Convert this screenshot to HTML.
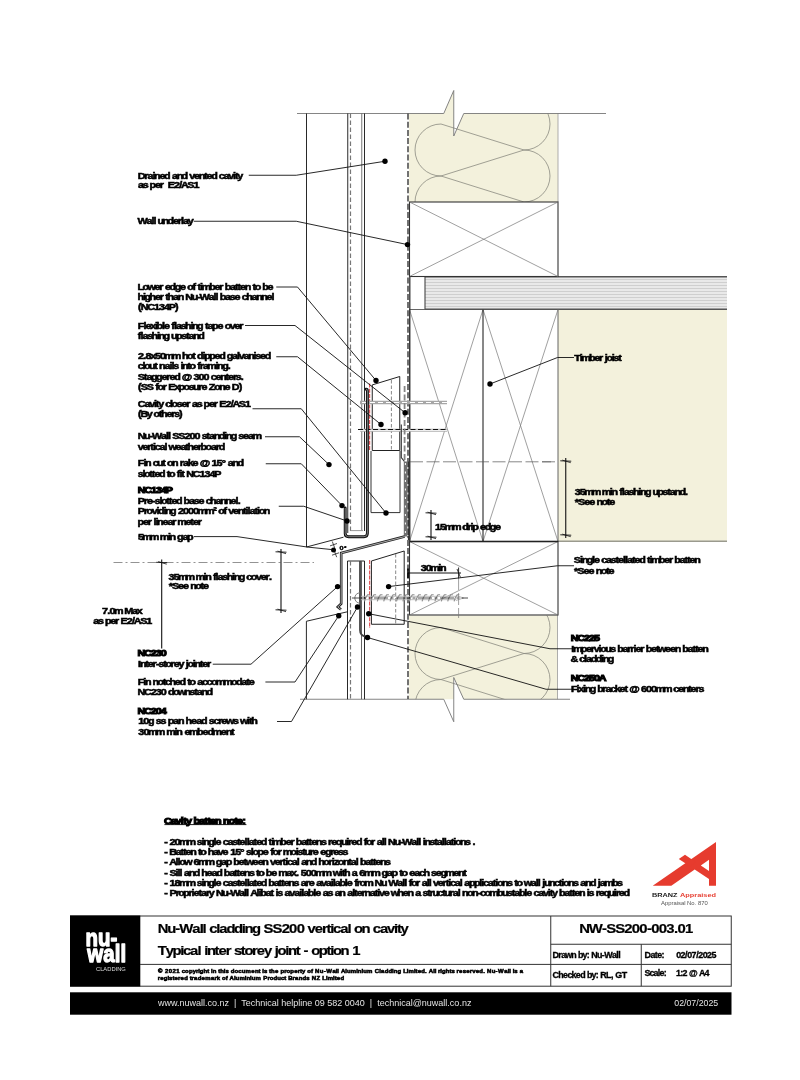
<!DOCTYPE html>
<html lang="en"><head><meta charset="utf-8"><title>NW-SS200-003.01 Typical inter storey joint - option 1</title>
<style>
html,body{margin:0;padding:0;background:#fff;}
body{width:800px;height:1080px;overflow:hidden;}
svg{display:block;will-change:transform;font-family:"Liberation Sans",sans-serif;}
svg text{white-space:pre;}
</style></head><body>
<svg width="800" height="1080" viewBox="0 0 800 1080">
<rect x="0" y="0" width="800" height="1080" fill="#fff"/>
<g id="drawing" stroke-linecap="butt" stroke-linejoin="miter">
<defs>
<clipPath id="clipA"><rect x="409.5" y="113.5" width="148.5" height="88.5"/></clipPath>
<clipPath id="clipB"><rect x="409.5" y="615.5" width="148" height="83.7"/></clipPath>
</defs>
<polygon points="409,113.5 443.75,113.5 453.75,90.5 453.75,136 463.75,113.5 558,113.5 558,202 409,202" fill="#f3f1dc" stroke="none" stroke-width="1"/>
<rect x="558" y="309.5" width="169" height="231.7" fill="#f3f1dc" stroke="none" stroke-width="1"/>
<line x1="558" y1="541.25" x2="727" y2="541.25" stroke="#9a9a8e" stroke-width="1.3"/>
<polygon points="409,615.5 557.5,615.5 557.5,699.25 463.75,699.25 453.75,677.5 453.75,699.25 409,699.25" fill="#f3f1dc" stroke="none" stroke-width="1"/>
<line x1="557.5" y1="615" x2="557.5" y2="699.25" stroke="#999" stroke-width="0.8"/>
<line x1="558" y1="113.5" x2="558" y2="202" stroke="#999" stroke-width="0.8"/>
<path d="M524,98.0 A26,26 0 0 1 524,150.0 L441,176.0 A26,26 0 0 1 441,124.0 L524,150.0 A26,26 0 0 1 524,202.0 L441,176.0 A26,26 0 0 0 441,228.0" fill="none" stroke="#8a8a80" stroke-width="0.8" clip-path="url(#clipA)"/>
<path d="M524,601.5 A26,26 0 0 1 524,653.5 L441,679.5 A26,26 0 0 1 441,627.5 L524,653.5 A26,26 0 0 1 524,705.5 L441,679.5 A26,26 0 0 0 441,731.5" fill="none" stroke="#8a8a80" stroke-width="0.8" clip-path="url(#clipB)"/>
<path d="M297,113.5 H443.75 L453.75,90.5 V136 L463.75,113.5 H606" fill="none" stroke="#777" stroke-width="0.9"/>
<path d="M300,699.25 H443.75 L453.75,721.75 V677.5 L463.75,699.25 H570" fill="none" stroke="#777" stroke-width="0.9"/>
<rect x="425" y="276.5" width="302" height="33" fill="#e9e9e9" stroke="none" stroke-width="1"/>
<line x1="425" y1="279.5" x2="727" y2="279.5" stroke="#bdbdbd" stroke-width="0.6"/>
<line x1="425" y1="282.5" x2="727" y2="282.5" stroke="#bdbdbd" stroke-width="0.6"/>
<line x1="425" y1="285.5" x2="727" y2="285.5" stroke="#bdbdbd" stroke-width="0.6"/>
<line x1="425" y1="288.5" x2="727" y2="288.5" stroke="#bdbdbd" stroke-width="0.6"/>
<line x1="425" y1="291.5" x2="727" y2="291.5" stroke="#bdbdbd" stroke-width="0.6"/>
<line x1="425" y1="294.5" x2="727" y2="294.5" stroke="#bdbdbd" stroke-width="0.6"/>
<line x1="425" y1="297.5" x2="727" y2="297.5" stroke="#bdbdbd" stroke-width="0.6"/>
<line x1="425" y1="300.5" x2="727" y2="300.5" stroke="#bdbdbd" stroke-width="0.6"/>
<line x1="425" y1="303.5" x2="727" y2="303.5" stroke="#bdbdbd" stroke-width="0.6"/>
<line x1="425" y1="306.5" x2="727" y2="306.5" stroke="#bdbdbd" stroke-width="0.6"/>
<line x1="425" y1="276.8" x2="727" y2="276.8" stroke="#555" stroke-width="1.4"/>
<line x1="425" y1="309.3" x2="727" y2="309.3" stroke="#555" stroke-width="1.4"/>
<line x1="425" y1="276.5" x2="425" y2="309.5" stroke="#444" stroke-width="1.1"/>
<rect x="409.5" y="202" width="148.5" height="74.5" fill="none" stroke="#333" stroke-width="1.1"/>
<line x1="409.5" y1="202" x2="558" y2="276.5" stroke="#777" stroke-width="0.7"/>
<line x1="409.5" y1="276.5" x2="558" y2="202" stroke="#777" stroke-width="0.7"/>
<rect x="409.5" y="309.5" width="148.5" height="232" fill="none" stroke="#555" stroke-width="0.9"/>
<line x1="409.5" y1="309.5" x2="483" y2="541.5" stroke="#777" stroke-width="0.7"/>
<line x1="409.5" y1="541.5" x2="483" y2="309.5" stroke="#777" stroke-width="0.7"/>
<line x1="483" y1="309.5" x2="558" y2="541.5" stroke="#777" stroke-width="0.7"/>
<line x1="483" y1="541.5" x2="558" y2="309.5" stroke="#777" stroke-width="0.7"/>
<line x1="483" y1="309.5" x2="483" y2="541.5" stroke="#111" stroke-width="1"/>
<rect x="409.5" y="541.5" width="148.5" height="73.5" fill="none" stroke="#333" stroke-width="1.1"/>
<line x1="409.5" y1="541.5" x2="558" y2="615" stroke="#777" stroke-width="0.7"/>
<line x1="409.5" y1="615" x2="558" y2="541.5" stroke="#777" stroke-width="0.7"/>
<line x1="409.5" y1="541.5" x2="558" y2="541.5" stroke="#222" stroke-width="1.6"/>
<line x1="306.5" y1="113.5" x2="306.5" y2="547" stroke="#111" stroke-width="0.9"/>
<line x1="347.75" y1="113.5" x2="347.75" y2="533" stroke="#111" stroke-width="0.9"/>
<line x1="350.5" y1="113.5" x2="350.5" y2="533" stroke="#777" stroke-width="1.2" stroke-dasharray="4.5 2.5"/>
<line x1="361.75" y1="113.5" x2="361.75" y2="531" stroke="#666" stroke-width="0.9"/>
<line x1="364.5" y1="113.5" x2="364.5" y2="531" stroke="#111" stroke-width="0.9"/>
<line x1="350.5" y1="530.6" x2="363" y2="530.6" stroke="#999" stroke-width="1"/>
<line x1="408" y1="113.5" x2="408" y2="699" stroke="#444" stroke-width="1.5" stroke-dasharray="6 2.2"/>
<line x1="409.8" y1="276.5" x2="409.8" y2="541" stroke="#333" stroke-width="1.3"/>
<polygon points="372.25,384.9 399.75,376.5 399.75,450.5 372.25,450.5" fill="none" stroke="#222" stroke-width="1"/>
<line x1="391.4" y1="380" x2="391.4" y2="450" stroke="#888" stroke-width="1" stroke-dasharray="3.5 2"/>
<line x1="369.6" y1="383.6" x2="369.6" y2="451" stroke="#e2575a" stroke-width="1.2" stroke-dasharray="4 1.2"/>
<polyline points="371,451 371,512.6 400,512.6 400,451" fill="none" stroke="#333" stroke-width="1"/>
<line x1="360" y1="402.5" x2="447" y2="402.5" stroke="#a6a6a6" stroke-width="3.4"/>
<line x1="362" y1="402.5" x2="447" y2="402.5" stroke="#fff" stroke-width="1.1" stroke-dasharray="5 3"/>
<line x1="360" y1="430.3" x2="447" y2="430.3" stroke="#b0b0b0" stroke-width="3"/>
<line x1="360" y1="430.3" x2="447" y2="430.3" stroke="#fff" stroke-width="1"/>
<line x1="358" y1="429.5" x2="447" y2="429.5" stroke="#111" stroke-width="1.2" stroke-dasharray="5 2.5"/>
<path d="M345.2,508 V533.5 Q345.2,536.7 348.5,536.7 H364 Q367.4,536.7 367.4,533.3 V391 Q367.4,388.8 366,389.2" fill="none" stroke="#111" stroke-width="2.9" stroke-linecap="round"/>
<path d="M345.2,508 V533.5 Q345.2,536.7 348.5,536.7 H364 Q367.4,536.7 367.4,533.3 V391 Q367.4,388.8 366,389.2" fill="none" stroke="#999" stroke-width="0.8"/>
<line x1="406.3" y1="461.5" x2="406.3" y2="536.5" stroke="#707070" stroke-width="5"/>
<line x1="408.6" y1="461.5" x2="408.6" y2="540" stroke="#333" stroke-width="1.4"/>
<line x1="405.4" y1="463" x2="405.4" y2="536" stroke="#fff" stroke-width="1" stroke-dasharray="2 6.5"/>
<line x1="407.8" y1="467" x2="407.8" y2="536" stroke="#fff" stroke-width="0.9" stroke-dasharray="2 6.5"/>
<path d="M341,609.6 L337.8,607 L341.2,603.6 V553 L404.6,536.6" fill="none" stroke="#222" stroke-width="2.6"/>
<path d="M341,609.6 L337.8,607 L341.2,603.6 V553 L404.6,536.6" fill="none" stroke="#bbb" stroke-width="0.9"/>
<polyline points="404.4,461.3 401.3,457.5 401.3,424.4" fill="none" stroke="#333" stroke-width="1.1"/>
<line x1="404.6" y1="386" x2="404.6" y2="461" stroke="#858585" stroke-width="1.8" stroke-dasharray="6 2.5"/>
<line x1="410" y1="461.8" x2="556" y2="461.8" stroke="#555" stroke-width="0.7" stroke-dasharray="13 3.5"/>
<line x1="306.5" y1="547" x2="343.5" y2="537.2" stroke="#111" stroke-width="0.9"/>
<polyline points="347.5,699.25 347.5,561 364.5,561 364.5,699.25" fill="none" stroke="#111" stroke-width="0.9"/>
<line x1="350.5" y1="561" x2="350.5" y2="699" stroke="#777" stroke-width="1.2" stroke-dasharray="4.5 2.5"/>
<line x1="361.5" y1="561" x2="361.5" y2="699.25" stroke="#555" stroke-width="0.9"/>
<path d="M360,561 V630 Q360,636 366,636.5" fill="none" stroke="#444" stroke-width="1.8"/>
<polygon points="371.4,561 404.2,551 404.2,624.25 371.4,624.25" fill="none" stroke="#222" stroke-width="1"/>
<line x1="395.7" y1="554" x2="395.7" y2="624" stroke="#888" stroke-width="1" stroke-dasharray="3.5 2"/>
<line x1="369.6" y1="560" x2="369.6" y2="628" stroke="#e2575a" stroke-width="1.2" stroke-dasharray="4 1.2"/>
<polyline points="347.5,611.75 306.4,621.25 306.4,699.25" fill="none" stroke="#111" stroke-width="0.9"/>
<line x1="361" y1="596.3" x2="456" y2="596.3" stroke="#b5b5b5" stroke-width="0.9"/>
<line x1="361" y1="599.7" x2="456" y2="599.7" stroke="#b5b5b5" stroke-width="0.9"/>
<path d="M364.5,601.3 Q365.0,598 367.5,594.8 L369.7,594.8 M370.9,601.3 Q371.4,598 373.9,594.8 L376.09999999999997,594.8 M377.29999999999995,601.3 Q377.79999999999995,598 380.29999999999995,594.8 L382.49999999999994,594.8 M383.69999999999993,601.3 Q384.19999999999993,598 386.69999999999993,594.8 L388.8999999999999,594.8 M390.0999999999999,601.3 Q390.5999999999999,598 393.0999999999999,594.8 L395.2999999999999,594.8 M396.4999999999999,601.3 Q396.9999999999999,598 399.4999999999999,594.8 L401.6999999999999,594.8 M402.89999999999986,601.3 Q403.39999999999986,598 405.89999999999986,594.8 L408.09999999999985,594.8 M409.29999999999984,601.3 Q409.79999999999984,598 412.29999999999984,594.8 L414.49999999999983,594.8 M415.6999999999998,601.3 Q416.1999999999998,598 418.6999999999998,594.8 L420.8999999999998,594.8 M422.0999999999998,601.3 Q422.5999999999998,598 425.0999999999998,594.8 L427.2999999999998,594.8 M428.4999999999998,601.3 Q428.9999999999998,598 431.4999999999998,594.8 L433.69999999999976,594.8 M434.89999999999975,601.3 Q435.39999999999975,598 437.89999999999975,594.8 L440.09999999999974,594.8 M441.2999999999997,601.3 Q441.7999999999997,598 444.2999999999997,594.8 L446.4999999999997,594.8 M447.6999999999997,601.3 Q448.1999999999997,598 450.6999999999997,594.8 L452.8999999999997,594.8 M454.0999999999997,601.3 Q454.5999999999997,598 457.0999999999997,594.8 L459.29999999999967,594.8" fill="none" stroke="#909090" stroke-width="1.1"/>
<path d="M360,592.8 A5.2,5.2 0 0 0 360,603.2" fill="none" stroke="#777" stroke-width="0.9"/>
<polyline points="456,595.6 463.5,598 456,600.4" fill="none" stroke="#999" stroke-width="0.8"/>
<line x1="352" y1="598" x2="468" y2="598" stroke="#222" stroke-width="0.8" stroke-dasharray="14 2.5 3 2.5"/>
<line x1="113.5" y1="562.5" x2="314" y2="562.5" stroke="#777" stroke-width="0.8" stroke-dasharray="9 3 2 3"/>
<line x1="161.7" y1="559.5" x2="161.7" y2="648.6" stroke="#111" stroke-width="1.1"/>
<line x1="156.2" y1="562.3" x2="167.2" y2="562.7" stroke="#111" stroke-width="0.9"/>
<line x1="158.2" y1="561.6" x2="166.7" y2="564.2" stroke="#111" stroke-width="0.8"/>
<line x1="281" y1="549" x2="281" y2="613" stroke="#111" stroke-width="1.1"/>
<line x1="275.5" y1="551.8" x2="286.5" y2="552.2" stroke="#111" stroke-width="0.9"/>
<line x1="277.5" y1="551.1" x2="286" y2="553.7" stroke="#111" stroke-width="0.8"/>
<line x1="275.5" y1="609.8" x2="286.5" y2="610.2" stroke="#111" stroke-width="0.9"/>
<line x1="277.5" y1="609.1" x2="286" y2="611.7" stroke="#111" stroke-width="0.8"/>
<line x1="431" y1="510" x2="431" y2="540" stroke="#111" stroke-width="1.1"/>
<line x1="425.5" y1="512.8" x2="436.5" y2="513.2" stroke="#111" stroke-width="0.9"/>
<line x1="427.5" y1="512.1" x2="436" y2="514.7" stroke="#111" stroke-width="0.8"/>
<line x1="425.5" y1="536.8" x2="436.5" y2="537.2" stroke="#111" stroke-width="0.9"/>
<line x1="427.5" y1="536.1" x2="436" y2="538.7" stroke="#111" stroke-width="0.8"/>
<line x1="408" y1="573" x2="461" y2="573" stroke="#111" stroke-width="1"/>
<line x1="408" y1="568.5" x2="408" y2="578" stroke="#000" stroke-width="1.6"/>
<line x1="458.6" y1="567.5" x2="458.6" y2="578.5" stroke="#111" stroke-width="0.9"/>
<line x1="457" y1="569" x2="460.5" y2="577.5" stroke="#111" stroke-width="0.8"/>
<line x1="458.6" y1="578" x2="458.6" y2="618" stroke="#777" stroke-width="0.7" stroke-dasharray="12 3"/>
<line x1="565.75" y1="458" x2="565.75" y2="538" stroke="#111" stroke-width="1.1"/>
<line x1="560.25" y1="460.8" x2="571.25" y2="461.2" stroke="#111" stroke-width="0.9"/>
<line x1="562.25" y1="460.1" x2="570.75" y2="462.7" stroke="#111" stroke-width="0.8"/>
<line x1="560.25" y1="534.8" x2="571.25" y2="535.2" stroke="#111" stroke-width="0.9"/>
<line x1="562.25" y1="534.1" x2="570.75" y2="536.7" stroke="#111" stroke-width="0.8"/>
<line x1="542" y1="461.8" x2="551" y2="461.8" stroke="#666" stroke-width="0.8"/>
<line x1="330.0" y1="545.9000000000001" x2="337.0" y2="543.5" stroke="#222" stroke-width="0.8"/>
<line x1="332.3" y1="541.5" x2="334.7" y2="547.9000000000001" stroke="#222" stroke-width="0.8"/>
<line x1="332.0" y1="555.2" x2="339.0" y2="552.8" stroke="#222" stroke-width="0.8"/>
<line x1="334.3" y1="550.8" x2="336.7" y2="557.2" stroke="#222" stroke-width="0.8"/>
<circle cx="333.5" cy="550" r="2.5" fill="#000"/>
<text transform="translate(339.6,549.6) scale(1.35,1)" font-size="5.4" font-weight="bold" stroke="#000" stroke-width="0.35">0°</text>
<polyline points="248.75,175.25 296.25,175.25 385,161.25" fill="none" stroke="#111" stroke-width="0.9"/>
<circle cx="385" cy="161.25" r="2.7" fill="#000"/>
<polyline points="193.75,221.25 296.25,221.25 407.5,244.6" fill="none" stroke="#111" stroke-width="0.9"/>
<circle cx="407.5" cy="244.6" r="2.7" fill="#000"/>
<polyline points="276.25,287 297.5,287 376,380.5" fill="none" stroke="#111" stroke-width="0.9"/>
<circle cx="376" cy="380.5" r="2.7" fill="#000"/>
<polyline points="245,325.5 295,325.5 405.1,412.75" fill="none" stroke="#111" stroke-width="0.9"/>
<circle cx="405.1" cy="412.75" r="2.7" fill="#000"/>
<polyline points="276.25,356.75 297.5,356.75 381,424.5" fill="none" stroke="#111" stroke-width="0.9"/>
<circle cx="381" cy="424.5" r="2.7" fill="#000"/>
<polyline points="252.5,408.75 301.25,408.75 386,513" fill="none" stroke="#111" stroke-width="0.9"/>
<circle cx="386" cy="513" r="2.7" fill="#000"/>
<polyline points="265,436.75 299.5,436.75 329,464.6" fill="none" stroke="#111" stroke-width="0.9"/>
<circle cx="329" cy="464.6" r="2.7" fill="#000"/>
<polyline points="265.75,463.75 301.25,463.75 342,505.6" fill="none" stroke="#111" stroke-width="0.9"/>
<circle cx="342" cy="505.6" r="2.7" fill="#000"/>
<polyline points="278.75,506.25 303.75,506.25 347,521" fill="none" stroke="#111" stroke-width="0.9"/>
<circle cx="347" cy="521" r="2.7" fill="#000"/>
<polyline points="194,536.6 237,536.6 307,547 332,549.6" fill="none" stroke="#111" stroke-width="0.9"/>
<polyline points="212.75,664.2 251,664.2 337.6,586.6" fill="none" stroke="#111" stroke-width="0.9"/>
<circle cx="337.6" cy="586.6" r="2.7" fill="#000"/>
<polyline points="265.4,682 295,682 338.75,615.75" fill="none" stroke="#111" stroke-width="0.9"/>
<circle cx="338.75" cy="615.75" r="2.7" fill="#000"/>
<polyline points="277,721.5 291.5,721.5 357.5,607" fill="none" stroke="#111" stroke-width="0.9"/>
<circle cx="357.5" cy="607" r="2.7" fill="#000"/>
<polyline points="574,357.5 557.5,357.5 490,384" fill="none" stroke="#111" stroke-width="0.9"/>
<circle cx="490" cy="384" r="2.7" fill="#000"/>
<polyline points="574,565.75 557.5,565.75 388.6,586.6" fill="none" stroke="#111" stroke-width="0.9"/>
<circle cx="388.6" cy="586.6" r="2.7" fill="#000"/>
<polyline points="572.5,648.75 550,648.75 368.75,613.75" fill="none" stroke="#111" stroke-width="0.9"/>
<circle cx="368.75" cy="613.75" r="2.7" fill="#000"/>
<polyline points="572.5,689.25 546,689.25 367.5,637.5" fill="none" stroke="#111" stroke-width="0.9"/>
<circle cx="367.5" cy="637.5" r="2.7" fill="#000"/>
</g>
<g id="labels">
<text transform="translate(138.4,178.8) scale(1.2,1)" x="-0.54 4.91 7.5 11.67 13.09 17.51 21.43 26.06 27.93 31.86 36.03 40.65 42.32 46.28 50.2 54.58 56.7 60.63 65.26 66.92 70.88 74.84 78.8 80.43 82.34" y="0" font-size="9" font-weight="bold" fill="#000" stroke="#000" stroke-width="0.5">Drained and vented cavity</text>
<text transform="translate(138.4,188.4) scale(1.2,1)" x="-0.42 3.54 7.71 9.34 13.76 17.84 20.64 22.72 24.51 29.6 33.98 35.52 40.77 45.86" y="0" font-size="9" font-weight="bold" fill="#000" stroke="#000" stroke-width="0.5">as per  E2/AS1</text>
<text transform="translate(138.4,223.9) scale(1.2,1)" x="-0.71 6.66 10.83 12.5 14.37 16 20.17 24.35 28.76 32.85 35.43 37.1 41.06" y="0" font-size="9" font-weight="bold" fill="#000" stroke="#000" stroke-width="0.5">Wall underlay</text>
<text transform="translate(138.4,289.85) scale(1.2,1)" x="-0.66 3.51 7.55 13.34 17.43 20.22 22.09 26.02 30.19 34.61 38.99 40.62 44.99 47.33 49.16 51.28 52.49 58.95 63.37 67.46 70.25 71.88 76.29 80.43 82.51 84.63 88.56 93.18 95.02 96.9 101.52 103.15 107.57" y="0" font-size="9" font-weight="bold" fill="#000" stroke="#000" stroke-width="0.5">Lower edge of timber batten to be</text>
<text transform="translate(138.4,300.1) scale(1.2,1)" x="-0.66 3.75 5.17 9.35 13.76 17.85 20.64 22.48 24.35 28.77 32.7 37.32 39.07 44.37 48.95 50.99 58.36 62.53 64.2 66.07 67.7 72.12 76.08 80.04 84.42 86.08 89.8 94.22 98.14 102.31 106.73 110.9" y="0" font-size="9" font-weight="bold" fill="#000" stroke="#000" stroke-width="0.5">higher than Nu-Wall base channel</text>
<text transform="translate(138.4,310.1) scale(1.2,1)" x="-0.25 1.96 7.37 12.91 17.08 21.26 25.34 30.6" y="0" font-size="9" font-weight="bold" fill="#000" stroke="#000" stroke-width="0.5">(NC134P)</text>
<text transform="translate(138.4,328.6) scale(1.2,1)" x="-0.46 4.16 5.83 9.79 13.75 15.17 19.59 21.26 25.64 27.47 29.59 31.26 35.22 38.94 43.35 44.77 48.94 53.57 55.41 57.53 61.45 65.87 70.25 71.88 76.09 80.05 84.13" y="0" font-size="9" font-weight="bold" fill="#000" stroke="#000" stroke-width="0.5">Flexible flashing tape over</text>
<text transform="translate(138.4,338.6) scale(1.2,1)" x="-0.46 1.67 3.33 7.29 11.01 15.43 16.85 21.02 25.64 27.27 31.44 35.65 39.57 41.69 45.62 49.79" y="0" font-size="9" font-weight="bold" fill="#000" stroke="#000" stroke-width="0.5">flashing upstand</text>
<text transform="translate(138.4,359.35) scale(1.2,1)" x="-0.42 3.96 5.84 9.8 13.76 17.93 21.64 27.89 34.81 36.43 40.61 44.98 47.32 48.94 53.36 54.78 58.95 63.37 67.29 71.92 73.55 77.97 82.14 83.59 87.55 91.48 95.9 97.35 101.31 105.24" y="0" font-size="9" font-weight="bold" fill="#000" stroke="#000" stroke-width="0.5">2.8x50mm hot dipped galvanised</text>
<text transform="translate(138.4,369.35) scale(1.2,1)" x="-0.63 3.33 4.75 8.92 13.3 15.63 17.26 21.68 25.85 27.52 28.97 33.14 35.02 36.44 40.82 42.69 47.32 49.15 51.19 53.77 57.49 64.19 65.61 69.79 74.41" y="0" font-size="9" font-weight="bold" fill="#000" stroke="#000" stroke-width="0.5">clout nails into framing.</text>
<text transform="translate(138.4,380.1) scale(1.2,1)" x="-0.5 4.55 6.67 10.59 14.77 19.18 23.27 25.85 29.78 34.4 36.11 44.1 45.97 50.15 54.32 58.7 60.36 64.32 68.25 72.62 74.75 78.83 81.21 85.38" y="0" font-size="9" font-weight="bold" fill="#000" stroke="#000" stroke-width="0.5">Staggered @ 300 centers.</text>
<text transform="translate(138.4,390.1) scale(1.2,1)" x="-0.25 2 7 12.29 14.13 16.01 20.34 23.13 24.92 29.8 33.51 37.68 41.89 45.6 49.94 52.52 56.9 58.73 63.11 67.28 71.7 76.08 77.83 83.54" y="0" font-size="9" font-weight="bold" fill="#000" stroke="#000" stroke-width="0.5">(SS for Exposure Zone D)</text>
<text transform="translate(138.4,406.85) scale(1.2,1)" x="-0.54 5 8.96 12.92 14.55 16.46 20.63 22.29 26.25 27.67 31.88 35.84 39.93 42.72 44.59 48.55 52.72 54.35 58.77 62.86 65.65 67.44 72.53 76.9 78.45 83.7 88.78" y="0" font-size="9" font-weight="bold" fill="#000" stroke="#000" stroke-width="0.5">Cavity closer as per E2/AS1</text>
<text transform="translate(138.4,416.85) scale(1.2,1)" x="-0.25 1.75 6.87 11.04 12.67 17.05 18.93 23.34 27.43 29.8 33.93" y="0" font-size="9" font-weight="bold" fill="#000" stroke="#000" stroke-width="0.5">(By others)</text>
<text transform="translate(138.4,439.35) scale(1.2,1)" x="-0.54 4.75 9.34 11.38 18.75 22.92 24.58 26.46 28.25 33.25 38.34 42.51 46.68 51.06 52.73 56.65 58.77 62.7 66.87 71.28 72.7 76.88 81.5 83.17 87.13 91.3 95.01" y="0" font-size="9" font-weight="bold" fill="#000" stroke="#000" stroke-width="0.5">Nu-Wall SS200 standing seam</text>
<text transform="translate(138.4,449.85) scale(1.2,1)" x="-0.63 3.33 7.42 9.96 12.09 13.54 17.5 21.67 23.55 25.05 30.84 35.01 39.14 41.02 45.44 49.52 51.86 56.03 60.45 64.53 66.87" y="0" font-size="9" font-weight="bold" fill="#000" stroke="#000" stroke-width="0.5">vertical weatherboard</text>
<text transform="translate(138.4,465.6) scale(1.2,1)" x="-0.46 4.16 5.58 10.21 11.87 15.59 19.97 22.3 23.93 28.1 32.73 34.51 37.1 41.06 45.02 49.4 51.11 59.1 60.97 65.14 69.43 72.52 74.4 78.32 82.49" y="0" font-size="9" font-weight="bold" fill="#000" stroke="#000" stroke-width="0.5">Fin cut on rake @ 15° and</text>
<text transform="translate(138.4,476.85) scale(1.2,1)" x="-0.63 3.33 4.75 9.13 11.21 13.34 17.26 21.89 23.72 25.6 30.23 32.06 34.19 35.81 38.14 39.9 45.31 50.85 55.02 59.19 63.28" y="0" font-size="9" font-weight="bold" fill="#000" stroke="#000" stroke-width="0.5">slotted to fit NC134P</text>
<text transform="translate(138.4,492.6) scale(1.2,1)" x="-0.54 4.87 10.42 14.59 18.76 22.85" y="0" font-size="9" font-weight="bold" fill="#000" stroke="#000" stroke-width="1.05">NC134P</text>
<text transform="translate(138.4,503.85) scale(1.2,1)" x="-0.5 4.5 7.08 11.42 13.54 17.5 18.92 23.3 25.38 27.51 31.43 36.06 37.69 42.1 46.06 50.03 54.4 56.07 59.78 64.2 68.13 72.3 76.71 80.89 82.76" y="0" font-size="9" font-weight="bold" fill="#000" stroke="#000" stroke-width="0.5">Pre-slotted base channel.</text>
<text transform="translate(138.4,514.35) scale(1.2,1)" x="-0.5 4.5 6.84 11.04 15 16.42 20.84 22.26 26.43 31.06 32.93 37.11 41.28 45.45 49.16 55.41 62.28 64.82 66.45 70.83 73.16 74.82 78.78 82.71 87.09 89.21 90.88 92.54 96.67 98.8 100.22 104.39" y="0" font-size="9" font-weight="bold" fill="#000" stroke="#000" stroke-width="0.5">Providing 2000mm² of ventilation</text>
<text transform="translate(138.4,525.1) scale(1.2,1)" x="-0.66 3.75 7.84 10.63 12.51 14.17 15.59 20.01 24.18 28.27 31.06 32.47 39.18 43.31 45.44 49.52" y="0" font-size="9" font-weight="bold" fill="#000" stroke="#000" stroke-width="0.5">per linear meter</text>
<text transform="translate(138.4,539.85) scale(1.2,1)" x="-0.42 3.29 9.54 16.46 17.87 24.58 26 30.63 32.26 36.67 40.6" y="0" font-size="9" font-weight="bold" fill="#000" stroke="#000" stroke-width="0.5">5mm min gap</text>
<text transform="translate(169.1,580.3) scale(1.2,1)" x="-0.42 3.75 7.46 13.71 20.63 22.04 28.75 30.17 34.8 36.63 38.76 40.42 44.38 48.1 52.52 53.94 58.11 62.73 64.4 68.11 72.32 76.28 80.36 83.16" y="0" font-size="9" font-weight="bold" fill="#000" stroke="#000" stroke-width="0.5">35mm min flashing cover.</text>
<text transform="translate(169.1,589.1) scale(1.2,1)" x="-0.29 2.42 7.5 11.68 16.06 17.68 21.86 26.23 28.36" y="0" font-size="9" font-weight="bold" fill="#000" stroke="#000" stroke-width="0.5">*See note</text>
<text transform="translate(102.45,614.1) scale(1.2,1)" x="-0.42 3.96 5.84 9.55 16.47 18.13 24.59 28.55" y="0" font-size="9" font-weight="bold" fill="#000" stroke="#000" stroke-width="0.5">7.0m Max</text>
<text transform="translate(93.7,624.2) scale(1.2,1)" x="-0.42 3.54 7.71 9.34 13.76 17.84 20.64 22.43 27.51 31.89 33.44 38.69 43.77" y="0" font-size="9" font-weight="bold" fill="#000" stroke="#000" stroke-width="0.5">as per E2/AS1</text>
<text transform="translate(138.2,656.4) scale(1.2,1)" x="-0.54 4.87 10.42 14.59 18.76" y="0" font-size="9" font-weight="bold" fill="#000" stroke="#000" stroke-width="1.05">NC230</text>
<text transform="translate(138.2,667.1) scale(1.2,1)" x="-0.21 1.42 5.8 7.92 12.01 14.76 16.88 20.8 22.68 27.01 29.59 33.55 37.72 39.6 41.02 45.43 46.85 51.23 53.35 57.44" y="0" font-size="9" font-weight="bold" fill="#000" stroke="#000" stroke-width="0.5">Inter-storey jointer</text>
<text transform="translate(138.2,685.0) scale(1.2,1)" x="-0.46 4.16 5.58 10.21 11.84 16.01 20.39 22.3 26.02 30.43 34.36 38.98 40.82 42.7 47.32 49.2 53.16 56.91 60.62 64.58 70.83 77.29 81.46 85.88 90.01 92.13" y="0" font-size="9" font-weight="bold" fill="#000" stroke="#000" stroke-width="0.5">Fin notched to accommodate</text>
<text transform="translate(138.2,694.6) scale(1.2,1)" x="-0.54 4.87 10.42 14.59 18.76 23.14 24.77 28.94 32.98 38.53 42.73 46.65 48.78 52.7 56.87" y="0" font-size="9" font-weight="bold" fill="#000" stroke="#000" stroke-width="0.5">NC230 downstand</text>
<text transform="translate(138.2,713.6) scale(1.2,1)" x="-0.54 4.87 10.42 14.59 18.76" y="0" font-size="9" font-weight="bold" fill="#000" stroke="#000" stroke-width="1.05">NC204</text>
<text transform="translate(138.6,723.6) scale(1.2,1)" x="-0.36 3.92 7.95 12.66 14.4 18.25 22.5 24.21 28.73 32.77 37.48 39.19 43.72 48 52.03 56.74 58.48 62.33 66.29 68.96 72.88 78.58 82.83 84.42 90.31 91.98 93.94" y="0" font-size="9" font-weight="bold" fill="#000" stroke="#000" stroke-width="0.5">10g ss pan head screws with</text>
<text transform="translate(138.6,734.8) scale(1.2,1)" x="-0.34 4 7.91 14.4 21.48 23.05 29.91 31.45 36.19 38.19 42.1 48.77 53.35 57.43 61.59 68.5 72.59 77.09" y="0" font-size="9" font-weight="bold" fill="#000" stroke="#000" stroke-width="0.5">30mm min embedment</text>
<text transform="translate(574.7,360.6) scale(1.2,1)" x="-0.46 4.16 5.37 11.83 16.25 20.34 23.13 25 26.42 30.84 32.29 36.22" y="0" font-size="9" font-weight="bold" fill="#000" stroke="#000" stroke-width="0.5">Timber joist</text>
<text transform="translate(575.2,495.1) scale(1.2,1)" x="-0.42 3.75 7.46 13.71 20.63 22.04 28.75 30.17 34.8 36.63 38.76 40.42 44.38 48.1 52.52 53.94 58.11 62.73 64.36 68.53 72.74 76.66 78.78 82.71 86.88 91.51" y="0" font-size="9" font-weight="bold" fill="#000" stroke="#000" stroke-width="0.5">35mm min flashing upstand.</text>
<text transform="translate(575.2,505.1) scale(1.2,1)" x="-0.29 2.42 7.5 11.68 16.06 17.68 21.86 26.23 28.36" y="0" font-size="9" font-weight="bold" fill="#000" stroke="#000" stroke-width="0.5">*See note</text>
<text transform="translate(435.6,529.6) scale(1.2,1)" x="-0.42 3.75 7.46 13.71 20.63 22.26 26.59 29.17 30.59 35.22 37.09 41.02 45.19 49.61" y="0" font-size="9" font-weight="bold" fill="#000" stroke="#000" stroke-width="0.5">15mm drip edge</text>
<text transform="translate(421.2,570.6) scale(1.2,1)" x="-0.42 3.75 7.46 14.17 15.59" y="0" font-size="9" font-weight="bold" fill="#000" stroke="#000" stroke-width="0.5">30min</text>
<text transform="translate(574.45,563.1) scale(1.2,1)" x="-0.5 4.59 6.01 10.18 14.59 16.26 20.64 22.3 26.27 30.23 34.15 36.27 40.44 42.11 43.77 47.91 50.03 53.95 58.58 60.42 62.54 63.74 70.21 74.62 78.71 81.5 83.13 87.55 91.68 93.76 95.89 99.81" y="0" font-size="9" font-weight="bold" fill="#000" stroke="#000" stroke-width="0.5">Single castellated timber batten</text>
<text transform="translate(574.45,574.35) scale(1.2,1)" x="-0.29 2.42 7.5 11.68 16.06 17.68 21.86 26.23 28.36" y="0" font-size="9" font-weight="bold" fill="#000" stroke="#000" stroke-width="0.5">*See note</text>
<text transform="translate(571.45,640.6) scale(1.2,1)" x="-0.54 4.87 10.42 14.59 18.76" y="0" font-size="9" font-weight="bold" fill="#000" stroke="#000" stroke-width="1.05">NC225</text>
<text transform="translate(571.45,651.85) scale(1.2,1)" x="-0.21 1.21 7.67 12.09 16.17 18.54 22.5 23.92 28.1 32.3 36.47 38.1 42.52 46.6 49.1 51.68 53.35 57.44 60.23 61.86 66.27 70.41 72.15 77.95 82.12 86.04 90.67 92.3 96.71 100.85 102.93 105.05 108.98" y="0" font-size="9" font-weight="bold" fill="#000" stroke="#000" stroke-width="0.5">Impervious barrier between batten</text>
<text transform="translate(571.45,661.85) scale(1.2,1)" x="-0.75 4.79 6.46 10.42 12.09 16.01 20.18 24.6 26.02 30.19" y="0" font-size="9" font-weight="bold" fill="#000" stroke="#000" stroke-width="0.5">&amp; cladding</text>
<text transform="translate(571.45,681.35) scale(1.2,1)" x="-0.54 4.87 10.42 14.59 18.76 22.8" y="0" font-size="9" font-weight="bold" fill="#000" stroke="#000" stroke-width="1.05">NC250A</text>
<text transform="translate(571.45,692.35) scale(1.2,1)" x="-0.46 4.16 5.62 9.58 11 15.17 19.8 21.43 25.76 28.34 32.3 36.05 40.01 44.14 46.48 48.19 56.17 58.05 62.22 66.39 70.1 76.35 83.27 84.93 88.89 92.82 97.19 99.32 103.4 105.78" y="0" font-size="9" font-weight="bold" fill="#000" stroke="#000" stroke-width="0.5">Fixing bracket @ 600mm centers</text>
<text transform="translate(164.6,823.6) scale(1.2,1)" x="-0.54 5 9.17 13.55 15.59 17.92 22.3 24.14 28.76 33.1 35.6 37.93 42.06 46.89 48.72 53.3 58.09 60.42 64.76" y="0" font-size="9" font-weight="bold" fill="#000" stroke="#000" stroke-width="1.05">Cavity batten note:</text>
<line x1="164.4" y1="824.6" x2="246.4" y2="824.6" stroke="#000" stroke-width="0.9"/>
<text transform="translate(164.6,844.9) scale(1.2,1)" x="-0.25 2.29 4.16 8.34 12.05 18.29 25.21 26.87 30.84 32.26 36.43 40.84 42.51 46.89 48.55 52.52 56.48 60.4 62.52 66.69 68.36 70.02 74.16 76.28 80.2 84.83 86.67 88.79 89.99 96.46 100.87 104.96 107.75 109.38 113.8 117.93 120.01 122.14 126.06 130.27 134.44 136.23 138.81 142.73 146.91 151.32 152.9 155.49 159.41 164.04 165.87 167.75 172.08 174.87 176.75 180.92 182.59 184.46 186.21 191.51 196.09 198.13 205.5 209.67 211.34 213.21 215.09 216.51 220.71 224.64 226.76 230.93 232.6 234.26 238.39 240.52 241.94 246.11 250.32 254.49 256.57" y="0" font-size="9" font-weight="bold" fill="#000" stroke="#000" stroke-width="0.5">- 20mm single castellated timber battens required for all Nu-Wall installations .</text>
<text transform="translate(164.6,855.1) scale(1.2,1)" x="-0.25 2.29 3.83 9.17 13.3 15.38 17.51 21.43 26.06 27.89 29.77 34.39 36.02 40.44 44.4 48.36 52.74 54.62 58.79 63.08 66.17 67.83 71.79 73.21 77.38 81.8 86.18 88.02 89.89 94.23 97.02 98.43 104.89 109.31 110.77 114.69 116.56 120.9 123.48 127.86 129.73 133.66 137.99 140.57 144.54 148.29" y="0" font-size="9" font-weight="bold" fill="#000" stroke="#000" stroke-width="0.5">- Batten to have 15° slope for moisture egress</text>
<text transform="translate(164.6,865.4) scale(1.2,1)" x="-0.25 2.29 3.83 9.17 10.83 12.25 16.3 22.3 24.17 27.88 34.13 41.05 42.67 47.09 51.02 55.64 57.27 61.69 65.82 67.57 73.36 77.53 81.46 86.08 87.75 91.71 95.79 98.34 100.46 101.92 105.88 110.05 111.92 113.8 117.72 121.89 126.52 128.15 132.32 136.65 139.23 140.94 144.4 148.58 152.95 155.08 159.25 161.12 162.75 167.17 171.3 173.38 175.51 179.43 183.64" y="0" font-size="9" font-weight="bold" fill="#000" stroke="#000" stroke-width="0.5">- Allow 6mm gap between vertical and horizontal battens</text>
<text transform="translate(164.6,875.7) scale(1.2,1)" x="-0.25 2.29 4.08 9.17 10.83 12.5 14.37 16.25 20.17 24.35 28.97 30.6 35.02 39.19 43.11 47.74 49.37 53.79 57.92 60 62.12 66.05 70.26 74.43 76.26 78.14 82.76 84.39 88.81 93.19 94.61 101.31 105.27 109.44 111.53 113.4 117.57 121.74 125.45 131.7 138.62 140.12 145.91 147.54 149.41 154.04 155.92 160.3 162.17 165.88 172.13 179.05 180.67 185.09 189.02 193.64 195.48 197.36 201.98 203.86 208.03 211.99 215.7 220.33 221.99 225.95 229.88 233.84 240.54 244.47 248.85" y="0" font-size="9" font-weight="bold" fill="#000" stroke="#000" stroke-width="0.5">- Sill and head battens to be max. 500mm with a 6mm gap to each segment</text>
<text transform="translate(164.6,886.0) scale(1.2,1)" x="-0.25 2.29 4.16 8.34 12.05 18.29 25.21 26.87 30.84 32.26 36.43 40.84 42.51 46.89 48.55 52.52 56.48 60.4 62.52 66.69 68.36 70.02 74.16 76.28 80.2 84.83 86.46 90.88 95.01 97.09 99.21 103.14 107.35 111.52 113.39 117.48 120.06 124.44 126.31 130.27 134.24 138.41 140.07 141.74 145.66 150.08 151.75 156.13 157.96 160 162.34 166.3 173.21 174.96 180.26 184.88 186.47 193.84 198.01 199.67 201.55 203.38 205.26 209.59 212.39 214.26 218.43 220.1 221.97 223.64 227.6 231.68 234.23 236.35 237.81 241.77 245.94 247.81 249.69 253.61 257.78 262.2 263.87 265.32 269.28 273.42 275.54 276.96 281.13 285.34 289.51 291.34 293.22 297.84 299.34 305.14 309.31 310.97 312.85 314.72 316.14 320.31 324.52 328.44 330.57 331.99 336.16 340.36 344.53 346.41 350.33 354.5 359.13 361.01 362.67 366.38 372.84 377.05" y="0" font-size="9" font-weight="bold" fill="#000" stroke="#000" stroke-width="0.5">- 18mm single castellated battens are available from Nu Wall for all vertical applications to wall junctions and jambs</text>
<text transform="translate(164.6,896.3) scale(1.2,1)" x="-0.25 2.29 4.08 9.08 11.42 15.59 19.92 22.5 24.17 28.3 30.43 34.51 36.88 41.05 42.8 48.1 52.68 54.72 62.09 66.26 67.93 69.8 71.35 76.68 78.35 79.77 84.19 88.32 90.65 92.52 93.98 98.15 100.02 103.98 107.95 112.12 113.78 115.45 119.37 123.79 125.46 129.84 131.71 135.67 139.84 141.72 145.64 150.27 152.14 156.31 157.94 160.06 164.15 166.49 170.9 175.04 177.16 178.62 182.58 186.96 188.46 194 198.42 202.34 206.97 208.84 213.22 214.89 218.81 220.85 223.18 227.39 231.31 233.19 237.52 240.1 244.28 246.15 247.78 251.95 256.12 260.71 262.83 266.54 270.5 276.96 281.13 285.34 289.26 291.38 295.31 299.72 301.39 305.77 307.43 311.39 315.36 319.32 320.94 322.86 327.02 328.65 333.07 337.2 339.29 341.41 345.33 349.96 351.84 353.29 357.46 359.25 361.83 365.76 369.93 374.35 375.93 378.51 382.44" y="0" font-size="9" font-weight="bold" fill="#000" stroke="#000" stroke-width="0.5">- Proprietary Nu-Wall Alibat is available as an alternative when a structural non-combustable cavity batten is required</text>
</g>
<g id="branz">
<path d="M652.7,885.7 L716,842.1 L716,885.7 Z M700.8,865.4 L709,859.7 L709,870.9 Z M671.3,885.7 L694.7,869.6 L709,879.1 L709,885.7 Z" fill="#e63b2e" fill-rule="evenodd"/>
<polygon points="678.8,858.9 685,854.8 696,862.2 689.8,866.3" fill="#e63b2e" stroke="none" stroke-width="1"/>
<text x="652" y="897" font-size="6.2" font-weight="bold" fill="#1a1a1a" textLength="25.5" lengthAdjust="spacingAndGlyphs">BRANZ</text>
<text x="680" y="897" font-size="6.2" font-weight="bold" fill="#e63b2e" textLength="36" lengthAdjust="spacingAndGlyphs">Appraised</text>
<text x="661" y="904.5" font-size="5.2" font-weight="normal" fill="#555" textLength="46.7" lengthAdjust="spacingAndGlyphs">Appraisal No. 870</text>
</g>
<g id="titleblock">
<rect x="70.5" y="916" width="660.75" height="70.2" fill="#fff" stroke="#333" stroke-width="1"/>
<rect x="70" y="915.5" width="70.3" height="71" fill="#000" stroke="none" stroke-width="1"/>
<line x1="140" y1="964.4" x2="731.25" y2="964.4" stroke="#333" stroke-width="1"/>
<line x1="550.75" y1="916" x2="550.75" y2="986.2" stroke="#333" stroke-width="1"/>
<line x1="550.75" y1="944.25" x2="731.25" y2="944.25" stroke="#333" stroke-width="1"/>
<line x1="641.25" y1="944.25" x2="641.25" y2="986.2" stroke="#333" stroke-width="1"/>
<rect x="70" y="992.3" width="661.5" height="22.4" fill="#000" stroke="none" stroke-width="1"/>
<g transform="translate(85.6,946) scale(0.85,1)"><text x="0" y="0" font-size="24" font-weight="bold" fill="#fff" stroke="#fff" stroke-width="1.3" stroke-linejoin="round">nu-</text></g>
<g transform="translate(87.2,962) scale(0.85,1)"><text x="0" y="0" font-size="24" font-weight="bold" fill="#fff" stroke="#fff" stroke-width="1.3" stroke-linejoin="round" letter-spacing="0.2">wall</text></g>
<text x="96" y="970.6" font-size="4.9" font-weight="normal" fill="#ddd" textLength="29.8" lengthAdjust="spacingAndGlyphs">CLADDING</text>
<text transform="translate(158.2,933) scale(1.1,1)" x="-0.44 8.15 15.48 19.2 31.02 37.67 40.4 43.47 46.36 52.67 55.57 62.03 68.85 75.88 78.4 85.23 92.59 95.77 103.95 112.21 119.03 125.86 132.85 135.75 142.23 148.81 152.94 156.38 158.93 165.41 172.07 175.14 178.01 184.83 192.2 195.09 201.57 208.05 214.36 217.06 220.33" y="0" font-size="13.5" font-weight="bold" fill="#000" stroke="#000" stroke-width="0.2">Nu-Wall cladding SS200 vertical on cavity</text>
<text transform="translate(158.2,954.85) scale(1.1,1)" x="-0.37 6.81 12.92 19.95 22.5 28.98 35.64 38.7 41.77 44.3 51.29 54.9 61.49 65.99 68.88 75.16 78.4 85.36 89.69 96.17 102.82 105.89 108.41 115.44 117.97 124.96 128.74 132.12 136.24 139.11 145.93 152.93 156.37 158.9 165.72 173.09 176.33" y="0" font-size="13.5" font-weight="bold" fill="#000" stroke="#000" stroke-width="0.2">Typical inter storey joint - option 1</text>
<text transform="translate(157.8,972.6) scale(1.2,1)" x="0.24 4.26 5.92 9.07 12.21 15.36 18.41 19.91 22.76 25.91 29.03 31.81 33.65 35.02 38.17 41.22 42.93 44.34 45.71 48.9 50.34 52 55.03 56.38 59.28 60.8 63.95 67.07 69.92 73.15 77.91 80.92 83.97 85.68 87.1 88.44 91.34 92.77 94.44 97.72 100.77 102.3 105.37 107.33 110.47 113.75 116.69 118.55 120.2 123.09 124.62 127.67 129.38 131.1 134.99 138.2 140.28 145.49 148.39 149.65 151.06 152.62 156.25 157.61 160.85 165.36 166.73 169.76 171.13 174.36 179.03 180.75 184.53 186.03 189.04 192.19 195.22 196.59 199.74 202.93 204.45 207.49 208.94 213.45 214.73 216.53 219.54 222.73 224.3 225.86 229.49 230.74 232.16 233.61 235.45 236.82 239.97 243.02 244.66 247.56 249.01 251.1 254.09 257.08 260.01 261.95 264.93 267.94 271.13 272.7 274.42 278.31 281.52 283.61 288.82 291.72 292.97 294.39 295.8 297.15 300.04 301.7" y="0" font-size="5" font-weight="bold" fill="#000" stroke="#000" stroke-width="0.5">© 2021 copyright in this document is the property of Nu-Wall Aluminium Cladding Limited. All rights reserved. Nu-Wall is a</text>
<text transform="translate(157.8,979.6) scale(1.2,1)" x="-0.04 2.05 5.05 8.07 9.41 12.16 13.95 16.87 18.95 21.95 25.13 26.56 28.14 30.22 33.22 36.49 39.57 44.31 47.23 49.16 52.05 53.56 56.61 58.31 59.86 63.47 64.83 68.05 72.55 73.91 76.93 78.29 81.51 86.16 87.85 91.36 93.31 96.44 99.58 102.69 105.43 107.14 108.69 112.34 114.42 117.42 120.55 123.66 126.55 128.25 132.28 135.62 137.13 140.16 141.6 146.1 147.37 149.16 152.16" y="0" font-size="5" font-weight="bold" fill="#000" stroke="#000" stroke-width="0.5">registered trademark of Aluminium Product Brands NZ Limited</text>
<text x="158" y="1005.6" font-size="8.4" font-weight="normal" fill="#e4e4e4" textLength="313.4" lengthAdjust="spacingAndGlyphs">www.nuwall.co.nz  |  Technical helpline 09 582 0040  |  technical@nuwall.co.nz</text>
<text x="674.25" y="1005.6" font-size="8.4" font-weight="normal" fill="#e4e4e4" textLength="44" lengthAdjust="spacingAndGlyphs">02/07/2025</text>
<text transform="translate(579.7,932.7) scale(1.1,1)" x="-0.44 8.28 20.24 24.12 32.31 40.56 47.39 54.22 61.18 65.13 71.95 78.78 85.78 89.01 95.84" y="0" font-size="13.5" font-weight="bold" fill="#000" stroke="#000" stroke-width="0.2">NW-SS200-003.01</text>
<text transform="translate(552.85,957.5) scale(1.05,1)" x="-0.29 5.2 7.91 11.9 17.53 22.16 23.96 28.26 32.21 34.58 36.55 41.95 46.55 48.88 56.31 60.49 62.2" y="0" font-size="8.5" font-weight="bold" fill="#000" stroke="#000" stroke-width="0.3">Drawn by: Nu-Wall</text>
<text transform="translate(552.85,977.6) scale(1.05,1)" x="-0.25 5.2 9.77 13.89 17.78 21.9 26 30.67 32.5 36.85 40.83 43.23 45.24 50.7 55.36 57.53 59.52 65.64" y="0" font-size="8.5" font-weight="bold" fill="#000" stroke="#000" stroke-width="0.3">Checked by: RL, GT</text>
<text transform="translate(644.8,957.5) scale(1.05,1)" x="-0.28 5.37 9.54 11.82 15.99" y="0" font-size="8.5" font-weight="bold" fill="#000" stroke="#000" stroke-width="0.3">Date:</text>
<text transform="translate(676.4,957.5) scale(1.05,1)" x="-0.26 3.95 8.3 10.27 14.48 18.82 20.8 25.01 29.22 33.44" y="0" font-size="8.5" font-weight="bold" fill="#000" stroke="#000" stroke-width="0.3">02/07/2025</text>
<text transform="translate(644.8,976.3) scale(1.05,1)" x="-0.39 4.36 8.23 12.27 13.94 17.95" y="0" font-size="8.5" font-weight="bold" fill="#000" stroke="#000" stroke-width="0.3">Scale:</text>
<text transform="translate(676.4,976.3) scale(1.05,1)" x="-0.29 3.77 5.94 10.24 12.1 19.89 21.53 26.8" y="0" font-size="8.5" font-weight="bold" fill="#000" stroke="#000" stroke-width="0.3">1:2 @ A4</text>
</g>
</svg>
</body></html>
